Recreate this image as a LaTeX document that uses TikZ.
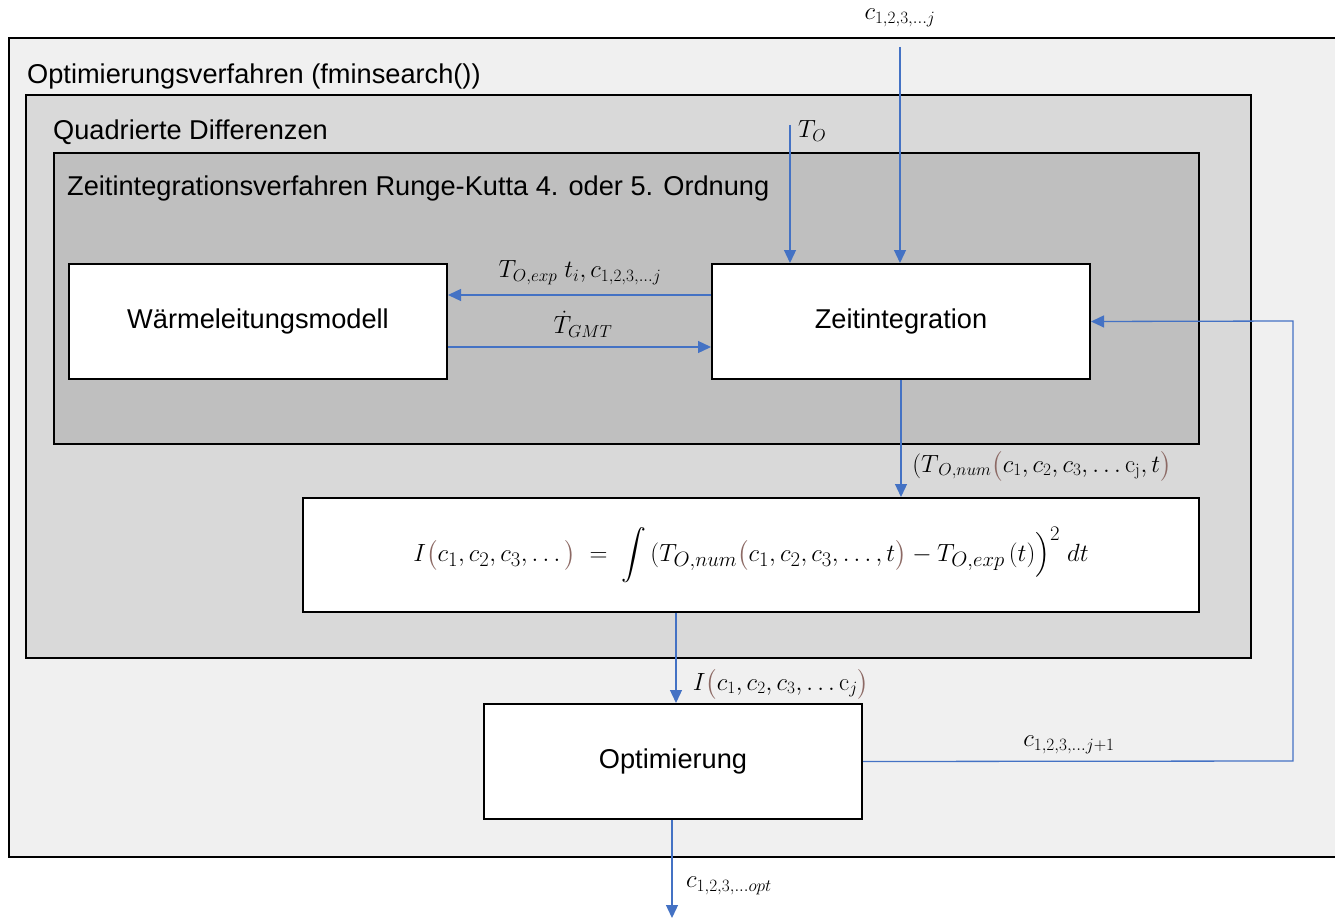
\documentclass[tikz,border=0pt]{standalone}
\usepackage{amsmath}
\usepackage{exscale}
\usepackage[no-math]{fontspec}
\setmainfont{Liberation Sans}
\usetikzlibrary{arrows.meta}
\definecolor{arrowblue}{HTML}{4472C4}
\definecolor{bgA}{HTML}{F0F0F0}
\definecolor{bgB}{HTML}{D9D9D9}
\definecolor{bgC}{HTML}{BFBFBF}
\definecolor{parcol}{RGB}{140,105,100}
\newcommand{\bp}[1]{\textcolor{parcol}{#1}}
\tikzset{
  container/.style={draw=black, line width=2pt, inner sep=0pt, anchor=north west},
  blockbox/.style={draw=black, line width=2pt, fill=white, inner sep=0pt, anchor=north west,
    font=\fontsize{27.2}{32}\selectfont},
  title/.style={anchor=base west, inner sep=0pt, font=\fontsize{27.2}{32}\selectfont},
  flow/.style={draw=arrowblue, line width=1.3pt, -{Triangle[length=13pt,width=12pt]}},
  lbl/.style={inner sep=0pt, font=\fontsize{25}{30}\selectfont},
}
\begin{document}
\begin{tikzpicture}[x=1pt,y=-1pt]
\useasboundingbox (0,0) rectangle (1335,920);
% containers
\node[container, fill=bgA, minimum width=1327pt, minimum height=819pt] (outer) at (8,37) {};
\node[container, fill=bgB, minimum width=1225pt, minimum height=563pt] (quad) at (25,94) {};
\node[container, fill=bgC, minimum width=1145pt, minimum height=291pt] (zeitv) at (53,152) {};
% titles
\node[title] (t1) at (27,84) {Optimierungsverfahren (fminsearch())};
\node[title] (t2) at (53,140) {Quadrierte Differenzen};
\node[title] (t3) at (67,196) {Zeitintegrationsverfahren Runge-Kutta 4. oder 5. Ordnung};
% blocks
\node[blockbox, minimum width=378pt, minimum height=115pt] (wm) at (68,263) {Wärmeleitungsmodell};
\node[blockbox, minimum width=378pt, minimum height=115pt] (zi) at (711,263) {Zeitintegration};
\node[blockbox, minimum width=896pt, minimum height=114pt] (integ) at (302,497)
  {\fontsize{28.5}{33}\selectfont$\displaystyle I\bp{\big(}c_1,c_2,c_3,\ldots\bp{\big)}\;=\;\int\,(T_{O,num}\bp{\big(}c_1,c_2,c_3,\ldots,t\bp{\big)}-T_{O,exp}\,(t)\Big)^{2}\;dt$};
\node[blockbox, minimum width=378pt, minimum height=115pt] (opt) at (483,703) {Optimierung};
% coordinates
\coordinate (cin) at (900,47);
\coordinate (toin) at (790,125);
\coordinate (cout) at (672,918);
\coordinate (loopA) at (1293,761);
\coordinate (loopB) at (1293,321);
% arrows
\draw[flow] (cin) -- (cin |- zi.north);
\draw[flow] (toin) -- (toin |- zi.north);
\draw[flow] (zi.west |- 0,295) -- (wm.east |- 0,295);
\draw[flow] (wm.east |- 0,347) -- (zi.west |- 0,347);
\draw[flow] (zi.south) -- (zi.south |- integ.north);
\draw[flow] (integ.south -| 676,0) -- (opt.north -| 676,0);
\draw[flow] (opt.east) -- (loopA) -- (loopB) -- (zi.east);
\draw[flow] (opt.south -| cout) -- (cout);
% labels
\node[lbl] (lc) at (900,18) {$c_{1,2,3,\ldots j}$};
\node[lbl, anchor=west] (lto) at (798,131) {$T_O$};
\node[lbl] (lexp) at (580,273) {$T_{O,exp}\ t_i,c_{1,2,3,\ldots j}$};
\node[lbl] (lgmt) at (583,324) {$\dot T_{GMT}$};
\node[lbl] (lnum) at (1042,466) {$(T_{\,O,num}\bp{\big(}c_1,c_2,c_3,\ldots\mathrm{c_j},t\bp{\big)}$};
\node[lbl] (li) at (781,684) {$I\bp{\big(}c_1,c_2,c_3,\ldots\mathrm{c}_j\bp{\big)}$};
\node[lbl] (ljp) at (1069,745) {$c_{1,2,3,\ldots j+1}$};
\node[lbl] (lopt) at (729,886) {$c_{1,2,3,\ldots opt}$};
\end{tikzpicture}
\end{document}
